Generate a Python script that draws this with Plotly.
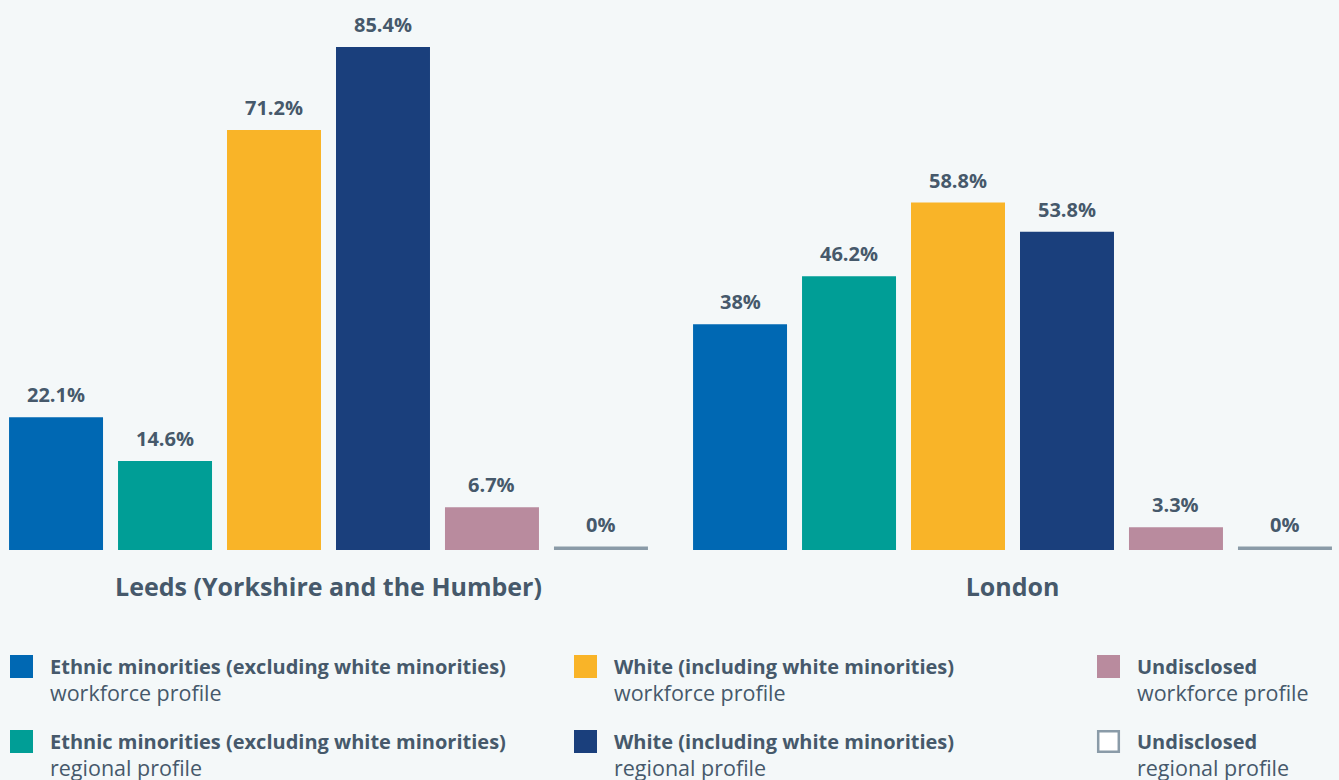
import plotly.graph_objects as go

# Regions compared
regions = ["Leeds (Yorkshire and the Humber)", "London"]

# Share of people (%) in each group, per region
series_names = [
    ("Ethnic minorities (excluding white minorities)", "workforce profile"),
    ("Ethnic minorities (excluding white minorities)", "regional profile"),
    ("White (including white minorities)", "workforce profile"),
    ("White (including white minorities)", "regional profile"),
    ("Undisclosed", "workforce profile"),
    ("Undisclosed", "regional profile"),
]
em_workforce = [22.1, 38.0]
em_regional = [14.6, 46.2]
white_workforce = [71.2, 58.8]
white_regional = [85.4, 53.8]
undisclosed_workforce = [6.7, 3.3]
undisclosed_regional = [0.0, 0.0]

series_values = [em_workforce, em_regional, white_workforce,
                 white_regional, undisclosed_workforce, undisclosed_regional]
value_labels = [
    ["22.1%", "38%"], ["14.6%", "46.2%"], ["71.2%", "58.8%"],
    ["85.4%", "53.8%"], ["6.7%", "3.3%"], ["0%", "0%"],
]

colors = ["#0068b3", "#009e96", "#f9b428", "#1a3f7c", "#b98b9e", "#8a9ba8"]
TEXT = "#46596b"
BG = "#f4f8f9"
FONT = "Open Sans"

BARGAP = 0.044
GROUPGAP = 0.1376
FLOOR = -0.6  # bars rise from slightly below zero so a 0% bar stays visible

W, H = 1339, 780
PX_PER = 5.85
ZERO_PX = 546.5
PLOT_H = 560

fig = go.Figure()
x_idx = list(range(len(regions)))
for vals, col, nm in zip(series_values, colors, series_names):
    # each bar spans from FLOOR up to its value
    fig.add_trace(go.Bar(
        x=x_idx, y=[v - FLOOR for v in vals], base=[FLOOR] * len(vals),
        marker=dict(color=col, line=dict(width=0)),
        name=f"{nm[0]} {nm[1]}", showlegend=False,
        hoverinfo="skip",
    ))

# Value labels above each bar
slot = (1 - BARGAP) / len(series_values)
annotations = []
for j, (vals, labs) in enumerate(zip(series_values, value_labels)):
    for i, (v, lab) in enumerate(zip(vals, labs)):
        annotations.append(dict(
            x=i + (j - (len(series_values) - 1) / 2) * slot, y=v,
            xref="x", yref="y", text=f"<b>{lab}</b>", showarrow=False,
            yanchor="bottom", yshift=7,
            font=dict(family=FONT, size=20, color=TEXT),
        ))


def px_x(p):
    return p / W


def px_y(p):
    return 1 - p / PLOT_H


# Hand-built legend: three columns, two rows
col_x = [10, 574, 1097]
row_y = [655, 730]
shapes = []
order = [(0, 0), (0, 1), (1, 0), (1, 1), (2, 0), (2, 1)]
for k, (c, r) in enumerate(order):
    x0, y0 = col_x[c], row_y[r]
    sw = 23
    if k == 5:
        shapes.append(dict(type="rect", xref="paper", yref="paper",
                           x0=px_x(x0 + 1.2), x1=px_x(x0 + sw - 1.2),
                           y0=px_y(y0 + sw - 1.2), y1=px_y(y0 + 1.2),
                           fillcolor="white", line=dict(color=colors[5], width=2.5)))
    else:
        shapes.append(dict(type="rect", xref="paper", yref="paper",
                           x0=px_x(x0), x1=px_x(x0 + sw),
                           y0=px_y(y0 + sw), y1=px_y(y0),
                           fillcolor=colors[k], line=dict(width=0)))
    title, sub = series_names[k]
    annotations.append(dict(
        x=px_x(x0 + 38), y=px_y(y0 + 11.5), xref="paper", yref="paper",
        xanchor="left", yanchor="middle", showarrow=False,
        text=f"<b>{title}</b>", font=dict(family=FONT, size=20, color=TEXT)))
    annotations.append(dict(
        x=px_x(x0 + 38), y=px_y(y0 + 37), xref="paper", yref="paper",
        xanchor="left", yanchor="middle", showarrow=False,
        text=sub, font=dict(family=FONT, size=21.5, color=TEXT)))

fig.update_layout(
    width=W, height=H,
    paper_bgcolor=BG, plot_bgcolor=BG,
    margin=dict(l=0, r=0, t=0, b=H - PLOT_H),
    barmode="group", bargap=BARGAP, bargroupgap=GROUPGAP,
    xaxis=dict(
        tickmode="array", tickvals=x_idx,
        ticktext=[f"<b>{r}</b>" for r in regions],
        range=[-328.5 / 684, (W - 328.5) / 684],
        showgrid=False, zeroline=False, showline=False, ticks="",
        ticklabelstandoff=10,
        tickfont=dict(family=FONT, size=25, color=TEXT),
    ),
    yaxis=dict(
        range=[-(PLOT_H - ZERO_PX) / PX_PER, ZERO_PX / PX_PER],
        visible=False, showgrid=False, zeroline=False,
    ),
    annotations=annotations, shapes=shapes,
)

fig.write_html("out.html")
